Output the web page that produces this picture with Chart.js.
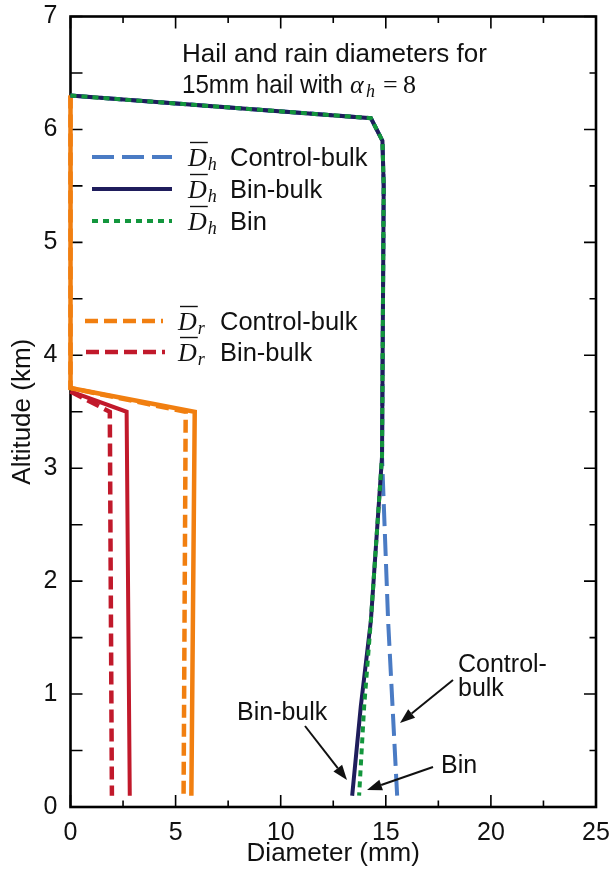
<!DOCTYPE html>
<html>
<head>
<meta charset="utf-8">
<script src="https://cdn.jsdelivr.net/npm/chart.js@4/dist/chart.umd.min.js"></script>
<style>
html,body{margin:0;padding:0;background:#fff;}
#wrap{width:610px;height:869px;position:relative;}
</style>
</head>
<body>
<div id="wrap"><canvas id="c" width="610" height="869"></canvas></div>
<script>
// ---- data (diameter mm, altitude km) ----
const hailCtrlX = [0, 14.29, 14.84, 14.9, 14.82, 15.11, 15.54];
const hailCtrlY = [6.3, 6.1, 5.9, 5.5, 3.1, 1.65, 0.1];
const hailBinBulkX = [0, 14.29, 14.84, 14.9, 14.82, 14.29, 13.81, 13.40];
const hailBinBulkY = [6.3, 6.1, 5.9, 5.5, 3.1, 1.65, 0.89, 0.1];
const hailBinX = [0, 14.29, 14.84, 14.9, 14.82, 14.29, 13.97, 13.73];
const hailBinY = [6.3, 6.1, 5.9, 5.5, 3.1, 1.65, 0.89, 0.1];
const rainCtrlDashX = [0, 0, 5.48, 5.38];
const rainCtrlDashY = [6.3, 3.71, 3.5, 0.1];
const rainCtrlSolidX = [0, 0, 5.91, 5.75];
const rainCtrlSolidY = [6.3, 3.71, 3.5, 0.1];
const rainBinBulkDashX = [0, 1.87, 1.97];
const rainBinBulkDashY = [3.68, 3.5, 0.1];
const rainBinBulkSolidX = [0, 2.67, 2.82];
const rainBinBulkSolidY = [3.68, 3.5, 0.1];
const xTicks = [0, 5, 10, 15, 20, 25];
const yTicks = [0, 1, 2, 3, 4, 5, 6, 7];

const pts = (xs, ys) => xs.map((x, i) => ({x: x, y: ys[i]}));

const C = {
  blue: '#4a7bc4', navy: '#1f1d5c', green: '#13963d',
  orange: '#f17f10', red: '#c1192b'
};

const SANS = '"Liberation Sans", Arial, Helvetica, sans-serif';
const SERIF = '"Liberation Serif", "Times New Roman", serif';

function ds(label, data, color, width, dash, order) {
  return {label, data, borderColor: color, backgroundColor: color, borderWidth: width,
    borderDash: dash, showLine: true, pointRadius: 0, pointHoverRadius: 0,
    tension: 0, clip: false, order, borderCapStyle: 'butt', borderJoinStyle: 'miter'};
}

const datasets = [
  ds('Dh Bin', pts(hailBinX, hailBinY), C.green, 4, [6, 5], 1),
  ds('Dh Bin-bulk', pts(hailBinBulkX, hailBinBulkY), C.navy, 4, [], 2),
  ds('Dh Control-bulk', pts(hailCtrlX, hailCtrlY), C.blue, 4, [22, 8], 3),
  ds('Dr Control-bulk solid', pts(rainCtrlSolidX, rainCtrlSolidY), C.orange, 4.5, [], 4),
  ds('Dr Control-bulk', pts(rainCtrlDashX, rainCtrlDashY), C.orange, 4.5, [13, 6], 5),
  ds('Dr Bin-bulk solid', pts(rainBinBulkSolidX, rainBinBulkSolidY), C.red, 4, [], 6),
  ds('Dr Bin-bulk', pts(rainBinBulkDashX, rainBinBulkDashY), C.red, 4.5, [13, 6], 7)
];

// frame and inward ticks
const framePlugin = {
  id: 'frame',
  beforeDatasetsDraw(chart) {
    const {ctx, chartArea: a, scales: {x, y}} = chart;
    ctx.save();
    ctx.strokeStyle = '#000';
    ctx.lineWidth = 1.6;
    ctx.beginPath();
    for (let v = 0; v <= 25.001; v += 2.5) {
      const px = x.getPixelForValue(v);
      const len = (Math.abs(v % 5) < 1e-6) ? 12 : 6.5;
      ctx.moveTo(px, a.bottom); ctx.lineTo(px, a.bottom - len);
      ctx.moveTo(px, a.top); ctx.lineTo(px, a.top + len);
    }
    for (let v = 0; v <= 7.001; v += 0.5) {
      const py = y.getPixelForValue(v);
      const len = (Math.abs(v % 1) < 1e-6) ? 12 : 6.5;
      ctx.moveTo(a.left, py); ctx.lineTo(a.left + 12, py);
      ctx.moveTo(a.right, py); ctx.lineTo(a.right - len, py);
    }
    ctx.stroke();
    ctx.lineWidth = 2.6;
    ctx.strokeRect(a.left, a.top, a.right - a.left, a.bottom - a.top);
    ctx.restore();
  }
};

function dbar(ctx, x, yMid, sub) {
  ctx.save();
  ctx.fillStyle = '#111';
  ctx.textBaseline = 'alphabetic';
  ctx.font = 'italic 26px ' + SERIF;
  const base = yMid + 8.5;
  ctx.fillText('D', x, base);
  const w = ctx.measureText('D').width;
  ctx.strokeStyle = '#111';
  ctx.lineWidth = 1.4;
  ctx.beginPath();
  ctx.moveTo(x + 2, base - 23); ctx.lineTo(x + w + 1, base - 23);
  ctx.stroke();
  ctx.font = 'italic 18px ' + SERIF;
  ctx.fillText(sub, x + w + 1, base + 4);
  ctx.restore();
}

function arrow(ctx, x1, y1, x2, y2) {
  const ang = Math.atan2(y2 - y1, x2 - x1);
  const L = 15, W = 5.5;
  const bx = x2 - L * Math.cos(ang), by = y2 - L * Math.sin(ang);
  ctx.beginPath();
  ctx.moveTo(x1, y1); ctx.lineTo(bx, by);
  ctx.stroke();
  ctx.beginPath();
  ctx.moveTo(x2, y2);
  ctx.lineTo(bx + W * Math.sin(ang), by - W * Math.cos(ang));
  ctx.lineTo(bx - W * Math.sin(ang), by + W * Math.cos(ang));
  ctx.closePath();
  ctx.fill();
}

const overlayPlugin = {
  id: 'overlay',
  afterDraw(chart) {
    const ctx = chart.ctx;
    ctx.save();
    // title
    ctx.fillStyle = '#111';
    ctx.textBaseline = 'alphabetic';
    ctx.font = '26px ' + SANS;
    ctx.fillText('Hail and rain diameters for', 182, 62);
    ctx.fillText('15mm hail with', 182, 93, 161);
    ctx.font = 'italic 26px ' + SERIF;
    ctx.fillText('\u03B1', 350, 93);
    ctx.font = 'italic 18px ' + SERIF;
    ctx.fillText('h', 366, 97);
    ctx.font = '26px ' + SERIF;
    ctx.fillText('=', 383, 93);
    ctx.fillText('8', 403, 93);

    // legend
    const rows = [
      {y: 157, x0: 92, x1: 172, c: C.blue, w: 4, d: [22, 8], dx: 188, sub: 'h', t: 'Control-bulk'},
      {y: 189, x0: 92, x1: 172, c: C.navy, w: 4, d: [], dx: 188, sub: 'h', t: 'Bin-bulk'},
      {y: 221, x0: 92, x1: 172, c: C.green, w: 4, d: [6, 5], dx: 188, sub: 'h', t: 'Bin'},
      {y: 321, x0: 85, x1: 163, c: C.orange, w: 4.5, d: [13, 6], dx: 178, sub: 'r', t: 'Control-bulk'},
      {y: 352, x0: 86, x1: 165, c: C.red, w: 4.5, d: [13, 6], dx: 178, sub: 'r', t: 'Bin-bulk'}
    ];
    rows.forEach(r => {
      ctx.save();
      ctx.strokeStyle = r.c; ctx.lineWidth = r.w; ctx.setLineDash(r.d); ctx.lineCap = 'butt';
      ctx.beginPath(); ctx.moveTo(r.x0, r.y); ctx.lineTo(r.x1, r.y); ctx.stroke();
      ctx.restore();
      dbar(ctx, r.dx, r.y, r.sub);
      ctx.fillStyle = '#111';
      ctx.font = '25.5px ' + SANS;
      ctx.textBaseline = 'alphabetic';
      ctx.fillText(r.t, r.dx + 42, r.y + 9);
    });

    // annotations
    ctx.font = '25px ' + SANS;
    ctx.fillStyle = '#111';
    ctx.fillText('Control-', 458, 672);
    ctx.fillText('bulk', 458, 696);
    ctx.fillText('Bin-bulk', 237, 720);
    ctx.fillText('Bin', 441, 773);
    ctx.strokeStyle = '#111';
    ctx.lineWidth = 2;
    arrow(ctx, 453, 680, 400, 723);
    arrow(ctx, 305, 726, 347, 780);
    arrow(ctx, 433, 767, 367, 790);
    ctx.restore();
  }
};

new Chart(document.getElementById('c'), {
  type: 'scatter',
  data: {datasets},
  options: {
    responsive: false,
    animation: false,
    devicePixelRatio: 1,
    layout: {padding: {top: 16.5, right: 14, left: 0, bottom: 0}},
    plugins: {legend: {display: false}, tooltip: {enabled: false}},
    scales: {
      x: {
        type: 'linear', min: 0, max: 25,
        afterBuildTicks: s => { s.ticks = xTicks.map(v => ({value: v})); },
        afterFit: s => { s.height = 62; s.paddingLeft = 0; s.paddingRight = 0; },
        grid: {display: false, drawTicks: false},
        border: {display: false},
        ticks: {color: '#111', font: {family: SANS, size: 25}, padding: 11, maxRotation: 0},
        title: {display: true, text: 'Diameter (mm)', color: '#111',
          font: {family: SANS, size: 26, lineHeight: 1.2}, padding: {top: 0, bottom: 0}}
      },
      y: {
        type: 'linear', min: 0, max: 7,
        afterBuildTicks: s => { s.ticks = yTicks.map(v => ({value: v})); },
        afterFit: s => { s.width = 70.5; s.paddingTop = 0; s.paddingBottom = 0; },
        grid: {display: false, drawTicks: false},
        border: {display: false},
        ticks: {color: '#111', font: {family: SANS, size: 25}, padding: 13},
        title: {display: true, text: 'Altitude (km)', color: '#111',
          font: {family: SANS, size: 26, lineHeight: 1.2}, padding: {top: 7, bottom: 0}}
      }
    }
  },
  plugins: [framePlugin, overlayPlugin]
});
</script>
</body>
</html>
